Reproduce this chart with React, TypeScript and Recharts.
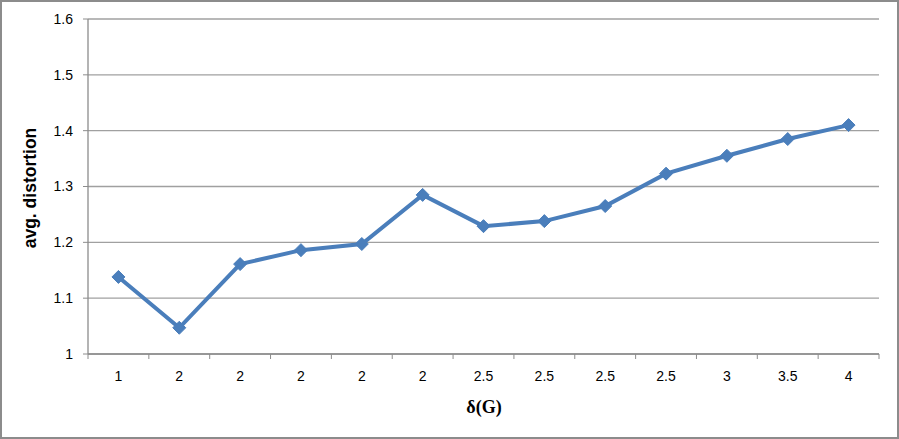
import React from 'react';
import { LineChart, Line, XAxis, YAxis, CartesianGrid } from 'recharts';

const categories = ['1', '2', '2', '2', '2', '2', '2.5', '2.5', '2.5', '2.5', '3', '3.5', '4'];
const distortion = [1.138, 1.047, 1.161, 1.186, 1.197, 1.285, 1.229, 1.238, 1.265, 1.323, 1.355, 1.385, 1.41];
const yTicks = [1, 1.1, 1.2, 1.3, 1.4, 1.5, 1.6];

const data = categories.map((c, i) => ({ idx: i, label: c, value: distortion[i] }));

const W = 899;
const H = 439;
const MARGIN = { top: 19, right: 20, left: 0, bottom: 0 };
const Y_AXIS_W = 88;
const X_AXIS_H = 85;
const BAND = (W - Y_AXIS_W - MARGIN.right) / categories.length;
const TICK_FONT = '"Liberation Sans", Arial, sans-serif';
const AXIS_COLOR = '#8c8c8c';
const LINE_COLOR = '#4a7ebb';

const XTick = (props: any) => {
  const { x, y, payload, index } = props;
  const label = categories[payload.value] ?? '';
  return (
    <g>
      <line x1={x - BAND / 2} y1={y} x2={x - BAND / 2} y2={y + 5} stroke={AXIS_COLOR} strokeWidth={1} />
      {index === categories.length - 1 && (
        <line x1={x + BAND / 2} y1={y} x2={x + BAND / 2} y2={y + 5} stroke={AXIS_COLOR} strokeWidth={1} />
      )}
      <text x={x} y={y + 23} textAnchor="middle" dominantBaseline="middle" fontFamily={TICK_FONT} fontSize={14} fill="#000">
        {label}
      </text>
    </g>
  );
};

const Diamond = (props: any) => {
  const { cx, cy } = props;
  if (cx == null || cy == null) return null;
  const r = 6.5;
  return (
    <polygon
      points={`${cx},${cy - r} ${cx + r},${cy} ${cx},${cy + r} ${cx - r},${cy}`}
      fill={LINE_COLOR}
      stroke={LINE_COLOR}
      strokeWidth={1}
    />
  );
};

export default function App() {
  return (
    <div style={{ position: 'fixed', left: 0, top: 0, width: W, height: H, background: '#fff' }}>
      <LineChart width={W} height={H} data={data} margin={MARGIN}>
        <CartesianGrid vertical={false} stroke="#a0a0a0" strokeWidth={1.3} />
        <XAxis
          dataKey="idx"
          type="category"
          height={X_AXIS_H}
          padding={{ left: BAND / 2, right: BAND / 2 }}
          stroke={AXIS_COLOR}
          axisLine={{ stroke: AXIS_COLOR, strokeWidth: 1.3 }}
          tickLine={false}
          tickSize={0}
          tickMargin={0}
          interval={0}
          tick={<XTick />}
          label={{
            content: () => (
              <text x={484} y={409} textAnchor="middle" dominantBaseline="middle" fontFamily='"Liberation Serif", "Times New Roman", serif' fontWeight="bold" fontSize={18} fill="#000">
                δ(G)
              </text>
            ),
          }}
        />
        <YAxis
          width={Y_AXIS_W}
          domain={[1, 1.6]}
          ticks={yTicks}
          interval={0}
          axisLine={{ stroke: AXIS_COLOR, strokeWidth: 1.3 }}
          tickLine={{ stroke: AXIS_COLOR, strokeWidth: 1 }}
          tickSize={5}
          tickMargin={10}
          tick={{ fontFamily: TICK_FONT, fontSize: 14, fill: '#000' }}
          tickFormatter={(v: number) => String(Math.round(v * 10) / 10)}
          label={{
            content: () => (
              <text x={31} y={188} transform="rotate(-90 31 188)" textAnchor="middle" dominantBaseline="middle" fontFamily={TICK_FONT} fontWeight="bold" fontSize={17.5} fill="#000">
                avg. distortion
              </text>
            ),
          }}
        />
        <Line
          type="linear"
          dataKey="value"
          stroke={LINE_COLOR}
          strokeWidth={4}
          dot={<Diamond />}
          activeDot={false}
          isAnimationActive={false}
        />
      </LineChart>
      <div
        style={{
          position: 'absolute',
          left: 0,
          top: 0,
          width: W,
          height: H,
          boxSizing: 'border-box',
          border: '2px solid #8c8c8c',
          pointerEvents: 'none',
        }}
      />
    </div>
  );
}
